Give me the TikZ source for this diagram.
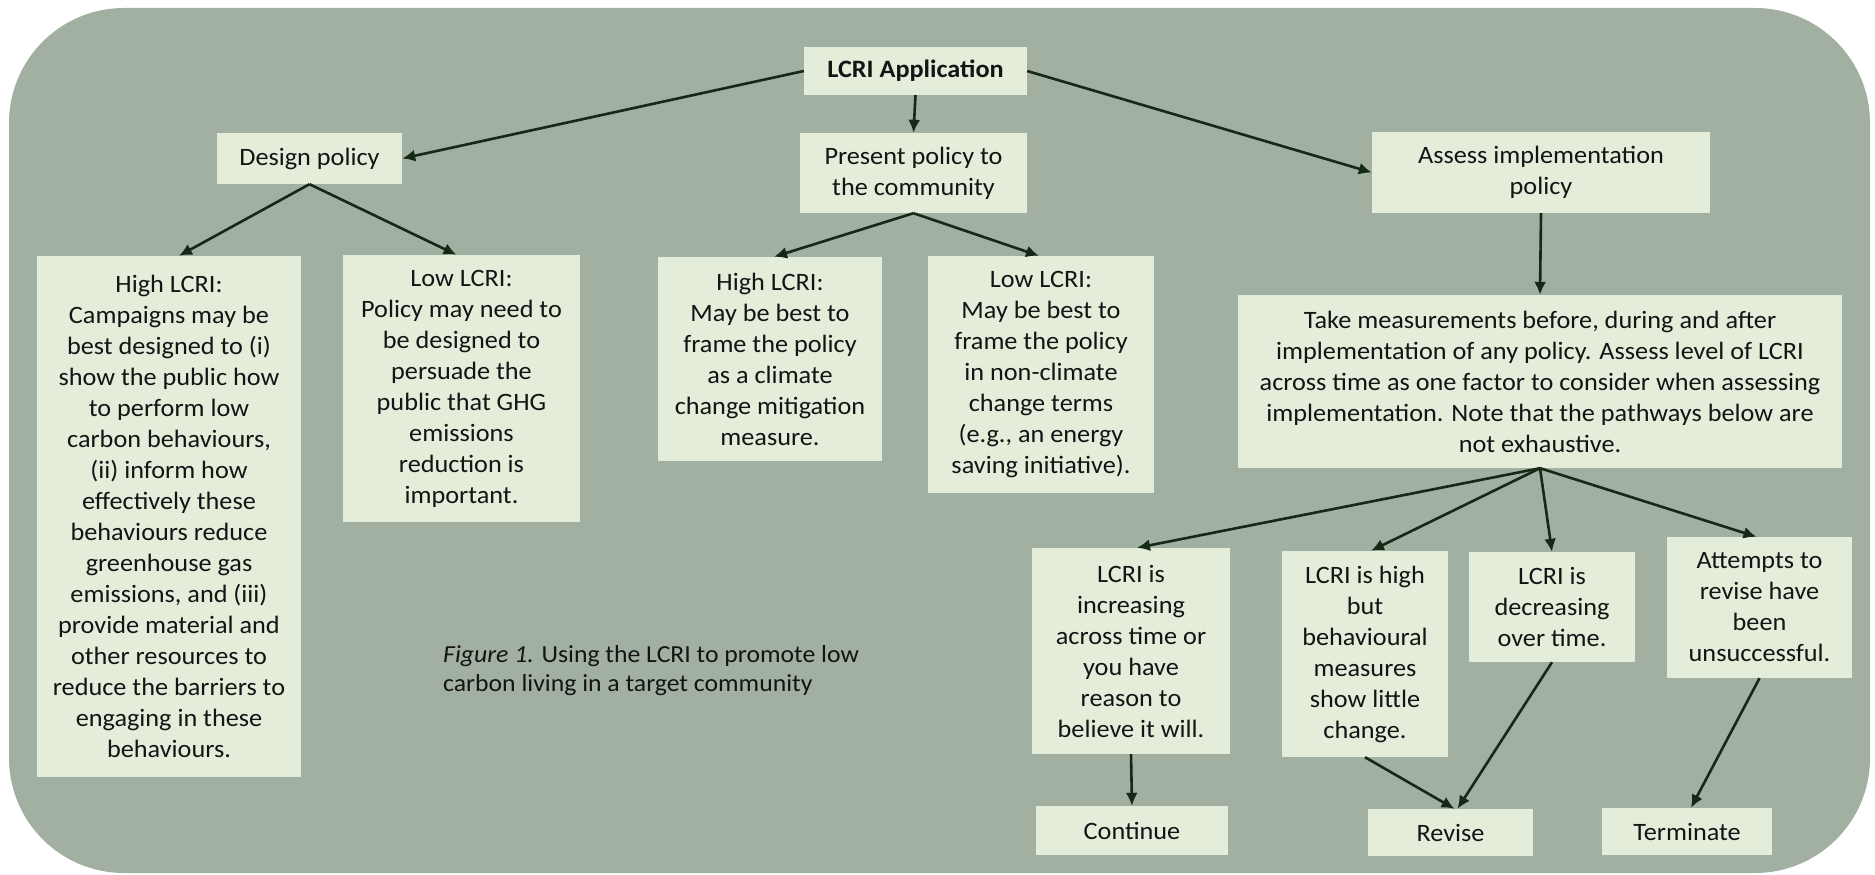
\documentclass[tikz,border=0pt]{standalone}
\usepackage{fontspec}
\setmainfont{Carlito}[FakeStretch=1.05]
\usetikzlibrary{arrows.meta}
\definecolor{bgcol}{RGB}{161,176,161}
\definecolor{boxcol}{RGB}{227,237,218}
\definecolor{edgecol}{RGB}{22,40,22}
\definecolor{txtcol}{RGB}{20,20,20}
\tikzset{
  box/.style={fill=boxcol, draw=none, inner sep=0pt, align=center, text=txtcol,
    font=\fontsize{25}{31}\selectfont},
  arr/.style={draw=edgecol, line width=2.6pt, -{Latex[length=13pt,width=12pt]}},
  caption/.style={inner sep=0pt, align=left, text=txtcol, font=\fontsize{24.5}{29}\selectfont}
}
\begin{document}
\begin{tikzpicture}[x=1pt,y=-1pt]
\fill[white] (0,0) rectangle (1875,875);
\useasboundingbox (0,0) rectangle (1875,875);
\fill[bgcol, rounded corners=115pt] (9,8) rectangle (1870,873);

\node[box, minimum width=223pt, minimum height=48pt] (app) at (915.5,71) {\textbf{LCRI Application}};
\node[box, minimum width=227pt, minimum height=80pt] (present) at (913.5,173) {Present policy to\\the community};
\node[box, minimum width=185pt, minimum height=51pt] (design) at (309.5,158.5) {Design policy};
\node[box, minimum width=338pt, minimum height=81pt] (assess) at (1541,172.5) {Assess implementation\\policy};

\node[box, minimum width=264pt, minimum height=521pt] (hiA) at (169,516.5) {High LCRI:\\Campaigns may be\\best designed to (i)\\show the public how\\to perform low\\carbon behaviours,\\(ii) inform how\\effectively these\\behaviours reduce\\greenhouse gas\\emissions, and (iii)\\provide material and\\other resources to\\reduce the barriers to\\engaging in these\\behaviours.};
\node[box, minimum width=237pt, minimum height=267pt] (loA) at (461.5,388.5) {Low LCRI:\\Policy may need to\\be designed to\\persuade the\\public that GHG\\emissions\\reduction is\\important.};
\node[box, minimum width=224pt, minimum height=204pt] (hiB) at (770,359) {High LCRI:\\May be best to\\frame the policy\\as a climate\\change mitigation\\measure.};
\node[box, minimum width=226pt, minimum height=237pt] (loB) at (1041,374.5) {Low LCRI:\\May be best to\\frame the policy\\in non-climate\\change terms\\(e.g., an energy\\saving initiative).};

\node[box, minimum width=604pt, minimum height=173pt] (take) at (1540,381.5) {Take measurements before, during and after\\implementation of any policy. Assess level of LCRI\\across time as one factor to consider when assessing\\implementation. Note that the pathways below are\\not exhaustive.};

\node[box, minimum width=198pt, minimum height=206pt] (inc) at (1131,651) {LCRI is\\increasing\\across time or\\you have\\reason to\\believe it will.};
\node[box, minimum width=166pt, minimum height=206pt] (hb) at (1365,654) {LCRI is high\\but\\behavioural\\measures\\show little\\change.};
\node[box, minimum width=166pt, minimum height=110pt] (dec) at (1552,607) {LCRI is\\decreasing\\over time.};
\node[box, minimum width=185pt, minimum height=141pt] (att) at (1759.5,607.5) {Attempts to\\revise have\\been\\unsuccessful.};

\node[box, minimum width=192pt, minimum height=49pt] (cont) at (1132,830.5) {Continue};
\node[box, minimum width=165pt, minimum height=47pt] (rev) at (1450.5,832.5) {Revise};
\node[box, minimum width=170pt, minimum height=47pt] (term) at (1687,831.5) {Terminate};

\node[caption, anchor=north west] (cap) at (443,645) {\textit{Figure 1.} Using the LCRI to promote low\\carbon living in a target community};

\draw[arr] (app.west) -- (design.east);
\draw[arr] (app.south) -- (present.north);
\draw[arr] (app.east) -- (assess.west);
\draw[arr] (design.south) -- ([xshift=10pt]hiA.north);
\draw[arr] (design.south) -- ([xshift=-5pt]loA.north);
\draw[arr] (present.south) -- ([xshift=4pt]hiB.north);
\draw[arr] (present.south) -- ([xshift=-2pt]loB.north);
\draw[arr] (assess.south) -- (take.north);
\draw[arr] (take.south) -- ([xshift=6pt]inc.north);
\draw[arr] (take.south) -- ([xshift=6pt]hb.north);
\draw[arr] (take.south) -- (dec.north);
\draw[arr] (take.south) -- ([xshift=-3pt]att.north);
\draw[arr] (inc.south) -- (cont.north);
\draw[arr] (hb.south) -- ([xshift=4pt]rev.north);
\draw[arr] (dec.south) -- ([xshift=7pt]rev.north);
\draw[arr] (att.south) -- ([xshift=4pt]term.north);
\end{tikzpicture}
\end{document}
